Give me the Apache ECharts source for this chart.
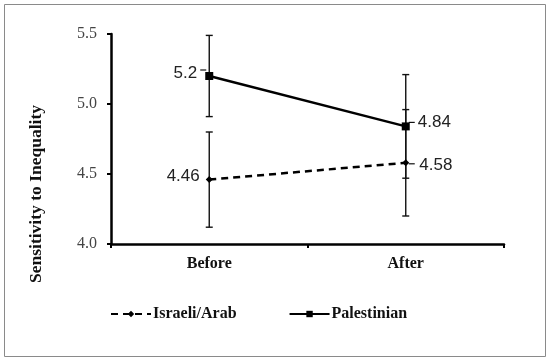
<!DOCTYPE html>
<html><head><meta charset="utf-8">
<script src="https://cdn.jsdelivr.net/npm/echarts@6/dist/echarts.min.js"></script>
<style>html,body{margin:0;padding:0;background:#fff}#c{width:550px;height:362px}</style>
</head><body><div id="c"></div>
<script>
const categories = ['Before', 'After'];
const israeli = [4.46, 4.58];
const palestinian = [5.2, 4.84];
const israeliLow = [4.12, 4.20];
const israeliHigh = [4.80, 4.96];
const palLow = [4.91, 4.47];
const palHigh = [5.49, 5.21];

const chart = echarts.init(document.getElementById('c'), null, {renderer: 'canvas'});

function errData(lo, hi) { return categories.map((c, i) => [i, lo[i], hi[i]]); }

function errRender(params, api) {
  const i = api.value(0);
  const p1 = api.coord([i, api.value(1)]);
  const p2 = api.coord([i, api.value(2)]);
  const cw = 3.5;
  const st = {stroke: '#111', lineWidth: 1.4};
  return {type: 'group', children: [
    {type: 'line', shape: {x1: p1[0], y1: p1[1], x2: p2[0], y2: p2[1]}, style: st},
    {type: 'line', shape: {x1: p1[0]-cw, y1: p1[1], x2: p1[0]+cw, y2: p1[1]}, style: st},
    {type: 'line', shape: {x1: p2[0]-cw, y1: p2[1], x2: p2[0]+cw, y2: p2[1]}, style: st}
  ]};
}

// small label leader dashes next to points
function leaderRender(params, api) {
  const i = api.value(0);
  const p = api.coord([i, api.value(1)]);
  const side = api.value(2);
  const dy = api.value(3);
  const st = {stroke: '#111', lineWidth: 1.2};
  const x1 = p[0] + side * 3, x2 = p[0] + side * 9;
  return {type: 'line', shape: {x1: x1, y1: p[1] + dy, x2: x2, y2: p[1] + dy}, style: st};
}

// label placement styles (per point index)
const israeliLabelCfg = [
  {position: 'left', distance: 6, offset: [0, -3]},
  {position: 'right', distance: 10, offset: [0, 3]}
];
const palLabelCfg = [
  {position: 'left', distance: 8, offset: [0, -3]},
  {position: 'right', distance: 8, offset: [0, -4]}
];

function labelled(values, cfg) {
  return values.map((v, i) => ({value: v, label: Object.assign({show: true}, cfg[i])}));
}

const labelStyle = {fontFamily: 'Liberation Sans', fontSize: 17, color: '#222', formatter: p => String(p.value)};

chart.setOption({
  animation: false,
  backgroundColor: '#fff',
  grid: {left: 111, right: 46, top: 34, bottom: 118},
  xAxis: {
    type: 'category', data: categories, boundaryGap: true,
    axisLine: {lineStyle: {color: '#000', width: 2.5}},
    axisTick: {show: true, length: 4, lineStyle: {color: '#000', width: 2}},
    axisLabel: {fontFamily: 'Liberation Serif', fontWeight: 'bold', fontSize: 16, color: '#111', margin: 12}
  },
  yAxis: {
    type: 'value', min: 4.0, max: 5.5, interval: 0.5,
    splitLine: {show: false},
    axisLine: {show: true, lineStyle: {color: '#000', width: 2.5}},
    axisTick: {show: true, length: 4, lineStyle: {color: '#000', width: 2}},
    axisLabel: {fontFamily: 'Liberation Serif', fontSize: 16, color: '#444', margin: 14,
      formatter: v => v.toFixed(1)}
  },
  legend: {
    left: 105, top: 301, itemGap: 52, itemWidth: 40, itemHeight: 8,
    textStyle: {fontFamily: 'Liberation Serif', fontWeight: 'bold', fontSize: 16, color: '#111', padding: [0,0,0,-3]},
    data: ['Israeli/Arab', 'Palestinian']
  },
  graphic: [
    {type: 'rect', shape: {x: 4.5, y: 4.5, width: 541, height: 352}, style: {fill: 'none', stroke: '#8a8a8a', lineWidth: 1}, z: -1},
    {type: 'text', x: 36, y: 194, rotation: Math.PI / 2,
      style: {text: 'Sensitivity to Inequality', fontFamily: 'Liberation Serif', fontWeight: 'bold', fontSize: 17.5, fill: '#111', align: 'center', verticalAlign: 'middle'}}
  ],
  series: [
    {type: 'custom', name: 'errI', renderItem: errRender, data: errData(israeliLow, israeliHigh), encode: {x: 0, y: [1, 2]}, z: 1, silent: true},
    {type: 'custom', name: 'errP', renderItem: errRender, data: errData(palLow, palHigh), encode: {x: 0, y: [1, 2]}, z: 1, silent: true},
    {type: 'custom', name: 'lead', renderItem: leaderRender,
      data: [[0, palestinian[0], -1, -6], [1, palestinian[1], 1, -4], [1, israeli[1], 1, 1]],
      encode: {x: 0, y: 1}, z: 1, silent: true},
    {type: 'line', name: 'Israeli/Arab', data: labelled(israeli, israeliLabelCfg),
      symbol: 'diamond', symbolSize: 7,
      lineStyle: {color: '#000', width: 2.5, type: [7, 5]},
      itemStyle: {color: '#000'},
      label: labelStyle, z: 3},
    {type: 'line', name: 'Palestinian', data: labelled(palestinian, palLabelCfg),
      symbol: 'rect', symbolSize: 8,
      lineStyle: {color: '#000', width: 2.5},
      itemStyle: {color: '#000'},
      label: labelStyle, z: 3}
  ]
});
</script>
</body></html>
